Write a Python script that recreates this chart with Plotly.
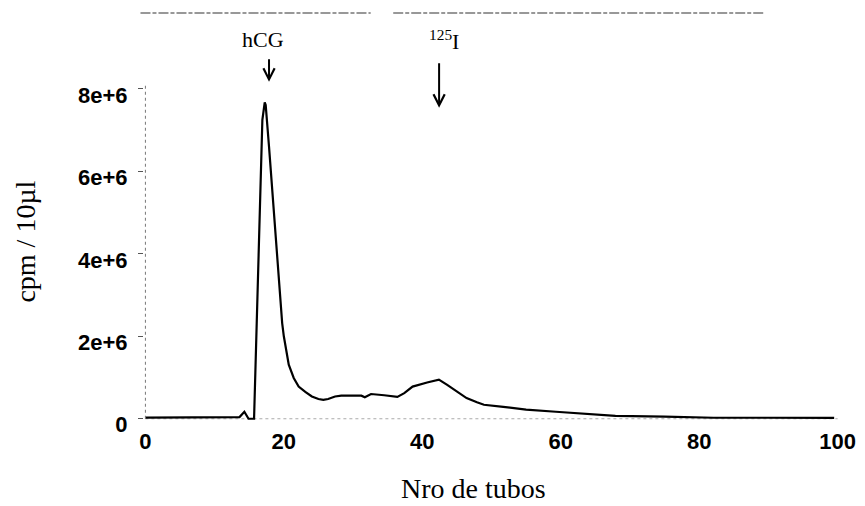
import plotly.graph_objects as go

# ---- data ----
tubes = [0, 5, 10, 13.6, 14.3, 14.9, 15.7, 16.9, 17.24, 17.38, 17.86, 18.57,
         19.29, 19.76, 20.0, 20.71, 21.43, 22.14, 23.1, 24.05, 25.0, 25.7,
         26.4, 27.4, 28.3, 31.2, 31.7, 32.6, 34.5, 36.4, 37.4, 38.6, 40.7,
         42.4, 43.6, 45.0, 46.4, 47.9, 48.9, 51.7, 55.0, 59.3, 63.1, 67.9,
         75.0, 82.1, 90.0, 99.5]
cpm = [30000, 30000, 30000, 40000, 170000, 0, 0, 7250000, 7670000, 7610000,
       6600000, 4990000, 3370000, 2320000, 2000000, 1310000, 990000, 780000,
       650000, 540000, 480000, 460000, 480000, 540000, 560000, 560000, 520000,
       600000, 570000, 530000, 620000, 780000, 880000, 950000, 820000,
       660000, 500000, 400000, 340000, 290000, 220000, 170000, 120000,
       70000, 50000, 25000, 25000, 20000]

x_ticks = [0, 20, 40, 60, 80, 100]
x_ticktext = ["0", "20", "40", "60", "80", "100"]
y_ticks = [0, 2e6, 4e6, 6e6, 8e6]
y_ticktext = ["0", "2e+6", "4e+6", "6e+6", "8e+6"]

markers = [  # (label, arrow x, arrow tip y, arrow length px, label x, label y)
    ("hCG", 17.86, 8.17e6, -24, 17.0, 8.85e6),
    ("<sup>125</sup>I", 42.43, 7.54e6, -46, 43.1, 8.8e6),
]

SERIF = "Liberation Serif, Times New Roman, serif"
SANS = "Liberation Sans, Arial, sans-serif"

fig = go.Figure()
fig.add_trace(go.Scatter(x=tubes, y=cpm, mode="lines",
                         line=dict(color="black", width=2.2),
                         showlegend=False, hoverinfo="skip"))

fig.update_layout(
    width=865, height=506,
    margin=dict(l=143.6, r=9.5, t=13.1, b=85.8),
    paper_bgcolor="white", plot_bgcolor="white",
    showlegend=False,
)
fig.update_xaxes(range=[-0.2, 101.5], tickvals=x_ticks, ticktext=x_ticktext,
                 showgrid=False, zeroline=False, showline=False, ticks="",
                 tickfont=dict(family=SANS, size=22, color="black", weight="bold"),
                 ticklabelstandoff=6)
fig.update_yaxes(range=[-0.03e6, 9.84e6], tickvals=y_ticks, ticktext=y_ticktext,
                 showgrid=False, zeroline=False, showline=False,
                 ticks="outside", ticklen=5, tickcolor="#555", tickwidth=1,
                 tickfont=dict(family=SANS, size=22, color="black", weight="bold"),
                 ticklabelstandoff=6, ticklabelshift=6)

# faint frame pieces
fig.add_shape(type="line", xref="paper", yref="y", x0=0.002, x1=0.002, y0=0, y1=8.1e6,
              line=dict(color="#777", width=1, dash="dot"))
fig.add_shape(type="line", xref="x", yref="y", x0=0, x1=100, y0=0, y1=0,
              line=dict(color="#aaa", width=1, dash="dot"), layer="below")
fig.add_shape(type="line", xref="paper", yref="paper", x0=-0.005, x1=0.322, y0=1, y1=1,
              line=dict(color="#333", width=1.2, dash="10px,2px,4px,2px"))
fig.add_shape(type="line", xref="paper", yref="paper", x0=0.354, x1=0.88, y0=1, y1=1,
              line=dict(color="#333", width=1.2, dash="10px,2px,4px,2px"))

for label, ax_x, tip_y, length, lx, ly in markers:
    fig.add_annotation(x=ax_x, y=tip_y, xref="x", yref="y", text="",
                       showarrow=True, ax=0, ay=length, arrowhead=5,
                       arrowsize=1.1, arrowwidth=2, arrowcolor="black", standoff=0)
    fig.add_annotation(x=lx, y=ly, xref="x", yref="y", text=label, showarrow=False,
                       xanchor="center", yanchor="bottom",
                       font=dict(family=SERIF, size=22, color="black"))

fig.add_annotation(x=47.4, y=-0.169, xref="x", yref="paper", text="Nro de tubos",
                   showarrow=False, xanchor="center", yanchor="middle",
                   font=dict(family=SERIF, size=28, color="black"))
fig.add_annotation(x=-0.168, y=4.29e6, xref="paper", yref="y", text="cpm / 10µl",
                   showarrow=False, textangle=-90, xanchor="center", yanchor="middle",
                   font=dict(family=SERIF, size=28, color="black"))

fig.write_html("out.html")
